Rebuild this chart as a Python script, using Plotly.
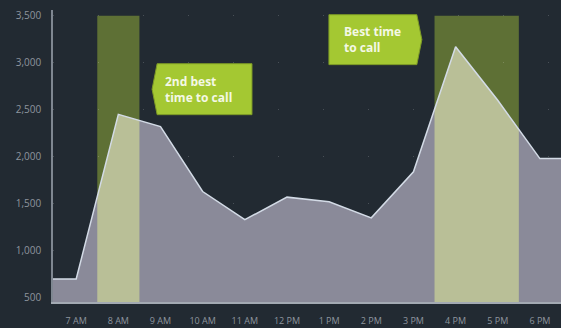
import numpy as np
import plotly.graph_objects as go

# ---- data ----
hours = [6.45, 7, 8, 9, 10, 11, 12, 13, 14, 15, 16, 17, 18, 18.5]
calls = [700, 700, 2450, 2320, 1630, 1330, 1570, 1520, 1350, 1840, 3170, 2600, 1980, 1980]
tick_vals = [7, 8, 9, 10, 11, 12, 13, 14, 15, 16, 17, 18]
tick_text = ["7 AM", "8 AM", "9 AM", "10 AM", "11 AM", "12 PM", "1 PM", "2 PM", "3 PM", "4 PM", "5 PM", "6 PM"]
y_ticks = [500, 1000, 1500, 2000, 2500, 3000, 3500]
bands = [(7.5, 8.5), (15.5, 17.5)]
band_top = 3500

BG = "#222a32"
OLIVE = "#5e7035"
PALE = "#b9bf97"
GRAY = "#8a8a99"
LIME = "#a4c832"
LINE = "#d3dbe6"
TICK = "#8e959e"

fig = go.Figure()

# olive band rectangles (behind)
for x0, x1 in bands:
    fig.add_shape(type="rect", x0=x0, x1=x1, y0=0, y1=band_top,
                  fillcolor=OLIVE, line_width=0, layer="below")

# main area
fig.add_trace(go.Scatter(x=hours, y=calls, mode="lines", fill="tozeroy",
                         fillcolor=GRAY, line=dict(color=GRAY, width=0),
                         hoverinfo="skip", showlegend=False))

# pale overlay inside bands, clipped to the area
h = np.array(hours, dtype=float)
c = np.array(calls, dtype=float)
for x0, x1 in bands:
    inner = (h > x0) & (h < x1)
    bx = np.concatenate([[x0], h[inner], [x1]])
    by = np.interp(bx, h, c)
    fig.add_trace(go.Scatter(x=bx, y=by, mode="lines", fill="tozeroy",
                             fillcolor=PALE, line=dict(width=0),
                             hoverinfo="skip", showlegend=False))

# outline
fig.add_trace(go.Scatter(x=hours, y=calls, mode="lines",
                         line=dict(color=LINE, width=1.5),
                         hoverinfo="skip", showlegend=False))

# callouts
def callout(x0, x1, y0, y1, tip_x, side):
    ym = (y0 + y1) / 2
    if side == "left":
        path = f"M {x0},{y0} L {x1},{y0} L {x1},{y1} L {x0},{y1} L {tip_x},{ym} Z"
    else:
        path = f"M {x0},{y0} L {x1},{y0} L {tip_x},{ym} L {x1},{y1} L {x0},{y1} Z"
    fig.add_shape(type="path", path=path, fillcolor=LIME,
                  line=dict(color="#7d9a26", width=1), layer="above")

callout(8.92, 11.17, 2447, 2989, 8.80, "left")
callout(12.995, 15.08, 2979, 3510, 15.20, "right")

fig.add_annotation(x=9.06, y=2718, xref="x", yref="y", xanchor="left", yanchor="middle",
                   text="<b>2nd best<br>time to call</b>", showarrow=False, align="left",
                   font=dict(family="Open Sans", size=12, color="#f4f8e6"))
fig.add_annotation(x=13.3, y=3245, xref="x", yref="y", xanchor="left", yanchor="middle",
                   text="<b>Best time<br>to call</b>", showarrow=False, align="left",
                   font=dict(family="Open Sans", size=12, color="#f4f8e6"))

fig.update_layout(
    width=561, height=328,
    margin=dict(l=53, r=0, t=10, b=26),
    paper_bgcolor=BG, plot_bgcolor=BG,
    font=dict(family="Open Sans", color=TICK),
    xaxis=dict(range=[6.45, 18.5], tickvals=tick_vals, ticktext=tick_text,
               showgrid=False, zeroline=False, showline=True, linecolor="#a3aab3",
               linewidth=1.5, tickfont=dict(size=9, color=TICK), ticks="",
               ticklabelstandoff=9),
    yaxis=dict(range=[455, 3560], tickvals=y_ticks, tickformat=",",
               showgrid=True, gridcolor="rgba(255,255,255,0.18)", griddash="1px,44px",
               zeroline=False, showline=True, linecolor="#7f8791", linewidth=1.5,
               tickfont=dict(size=10, color=TICK), ticks="", ticklabelstandoff=8),
)

fig.write_html("out.html")
